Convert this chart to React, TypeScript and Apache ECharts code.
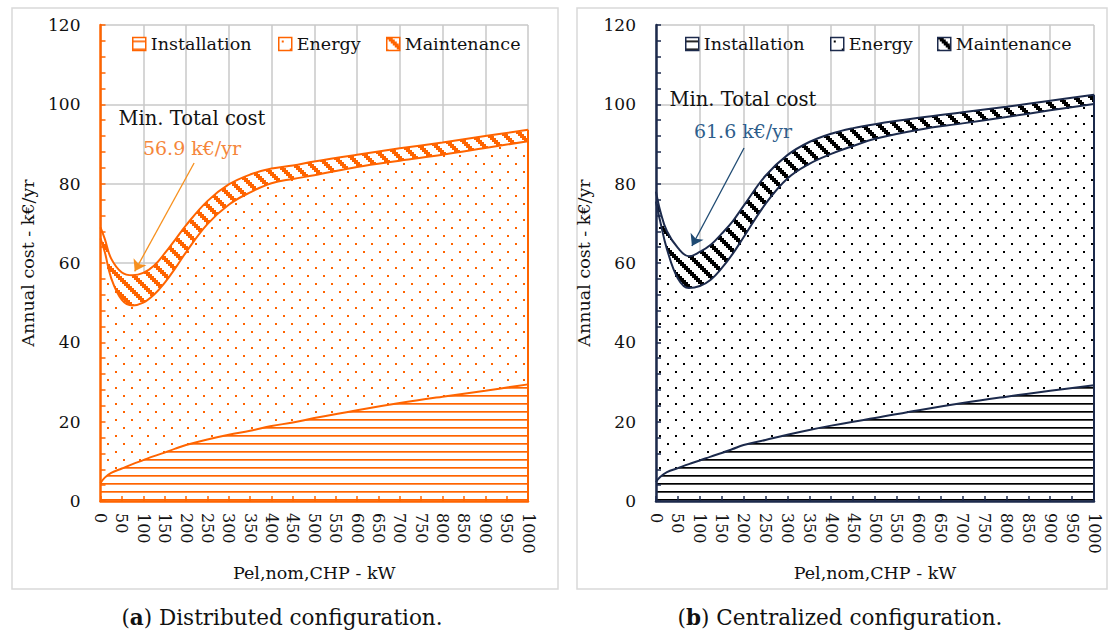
import React, { useEffect, useRef } from 'react';
import * as echarts from 'echarts';

// ---------------- data ----------------
const pelNomChp = [0, 10, 25, 50, 75, 100, 125, 150, 175, 200, 250, 300, 350, 400, 450, 500, 600, 700, 800, 900, 1000];
const xTickLabels = [0, 50, 100, 150, 200, 250, 300, 350, 400, 450, 500, 550, 600, 650, 700, 750, 800, 850, 900, 950, 1000];
const yTickLabels = [0, 20, 40, 60, 80, 100, 120];
const seriesNames = ['Installation', 'Energy', 'Maintenance'];

// (a) Distributed configuration
const installationA = [4.5, 5.9, 7.1, 8.2, 9.3, 10.3, 11.3, 12.2, 13.2, 14.1, 15.5, 16.7, 17.7, 18.9, 19.8, 20.9, 22.9, 24.7, 26.3, 27.8, 29.4];
const energyA = [61.7, 56.9, 49.1, 42.5, 40.0, 39.7, 40.7, 42.8, 45.5, 48.6, 54.3, 58.0, 60.1, 61.2, 61.4, 61.2, 61.3, 61.1, 61.0, 61.2, 61.3];
const maintenanceA = [2.8, 3.3, 4.9, 6.9, 7.6, 7.5, 7.3, 7.4, 7.2, 6.8, 5.8, 5.1, 4.5, 3.7, 3.4, 3.5, 3.1, 3.1, 3.1, 3.0, 2.9];
const minTotalA = 56.9;

// (b) Centralized configuration
const installationB = [4.8, 6.1, 7.3, 8.3, 9.3, 10.2, 11.2, 12.1, 13.1, 14.1, 15.4, 16.7, 17.9, 19.0, 20.0, 20.9, 22.9, 24.7, 26.3, 27.8, 29.2];
const energyB = [70.7, 64.2, 56.2, 47.8, 44.4, 44.0, 44.6, 46.6, 49.2, 52.4, 59.5, 64.6, 67.1, 68.5, 69.5, 70.4, 70.7, 70.5, 70.5, 70.7, 70.9];
const maintenanceB = [2.5, 2.7, 4.5, 7.7, 8.0, 8.6, 8.8, 8.7, 8.2, 7.9, 7.1, 5.9, 5.5, 5.1, 4.5, 3.7, 3.0, 2.8, 2.6, 2.4, 2.3];
const minTotalB = 61.6;

// ---------------- styling ----------------
const FONT = 'DejaVu Serif';
const TEXT = '#111111';
const GRID_GRAY = '#c8c8c8';
const TICK_SIZE = 17;
const NAME_SIZE = 17.5;

type Panel = {
  left: number; width: number; gridLeft: number; gridWidth: number;
  color: string; patternColor: string; legendLefts: number[]; yNameGap: number;
  border: { x: number; y: number; w: number; h: number };
  captionBold: string; captionRest: string; captionX: number;
  noteX: number; noteY1: number; noteY2: number; noteColor: string; arrowColor: string;
  arrowFrom: number[]; arrowTo: number[];
  installation: number[]; energy: number[]; maintenance: number[]; minTotal: number;
};

const panels: Panel[] = [
  {
    left: 0, width: 560, gridLeft: 100.5, gridWidth: 427.5,
    color: '#FF6400', patternColor: '#FF6400', legendLefts: [132, 278, 386], yNameGap: 58,
    border: { x: 12, y: 8, w: 546, h: 581 },
    captionBold: 'a', captionRest: ' Distributed configuration.', captionX: 282,
    noteX: 192, noteY1: 118, noteY2: 148, noteColor: '#F5863A', arrowColor: '#F7901E',
    arrowFrom: [219, 85.2], arrowTo: [80, 57.9],
    installation: installationA, energy: energyA, maintenance: maintenanceA, minTotal: minTotalA,
  },
  {
    left: 560, width: 550, gridLeft: 96, gridWidth: 438,
    color: '#1C2A4C', patternColor: '#000000', legendLefts: [125, 270, 377], yNameGap: 50,
    border: { x: 17, y: 8, w: 530, h: 581 },
    captionBold: 'b', captionRest: ' Centralized configuration.', captionX: 280,
    noteX: 183, noteY1: 99, noteY2: 131, noteColor: '#2E5E8C', arrowColor: '#1E4A72',
    arrowFrom: [201, 89.0], arrowTo: [82, 64.3],
    installation: installationB, energy: energyB, maintenance: maintenanceB, minTotal: minTotalB,
  },
];

function makeTile(kind: 'lines' | 'dots' | 'diag', color: string) {
  const size = kind === 'lines' ? 8 : 16;
  const c = document.createElement('canvas');
  c.width = size;
  c.height = size;
  const ctx = c.getContext('2d')!;
  ctx.fillStyle = '#ffffff';
  ctx.fillRect(0, 0, size, size);
  ctx.fillStyle = color;
  if (kind === 'lines') {
    ctx.fillRect(0, 3, 8, 1.7);
  } else if (kind === 'dots') {
    ctx.fillRect(3, 3, 2, 2);
    ctx.fillRect(11, 11, 2, 2);
  } else {
    for (let r = 0; r < 8; r++) {
      for (let k = 0; k < 3; k++) {
        ctx.fillRect(((r + k) % 8) * 2, r * 2, 2, 2);
      }
    }
  }
  return { image: c, repeat: 'repeat', imageWidth: size, imageHeight: size };
}

function buildOption(p: Panel) {
  const pats = [makeTile('lines', p.patternColor), makeTile('dots', p.patternColor), makeTile('diag', p.patternColor)];
  // cumulative tops of the stacked components (installation, + energy, + maintenance)
  const tops: number[][] = [];
  const parts = [p.installation, p.energy, p.maintenance];
  parts.forEach((arr, k) => {
    tops.push(arr.map((v, i) => +(v + (k > 0 ? tops[k - 1][i] : 0)).toFixed(2)));
  });
  const toPairs = (arr: number[]) => pelNomChp.map((x, i) => [x, arr[i]]);
  const last = pelNomChp.length - 1;
  const lastTotal = tops[2][last];
  const xMin = xTickLabels[0];
  const xMax = xTickLabels[xTickLabels.length - 1];
  const yMin = yTickLabels[0];
  const yMax = yTickLabels[yTickLabels.length - 1];
  const yStep = yTickLabels[1] - yTickLabels[0];
  const xStep = xTickLabels[1] - xTickLabels[0];

  // draw order: total first (back), then energy top, then installation (front)
  const order = [2, 1, 0];

  return {
    animation: false,
    textStyle: { fontFamily: FONT },
    grid: { left: p.gridLeft, top: 25, width: p.gridWidth, height: 476, containLabel: false, outerBoundsMode: 'none' },
    legend: p.legendLefts.map((left, i) => ({
      data: [{ name: seriesNames[i], icon: 'rect', itemStyle: { color: pats[i], borderColor: p.color, borderWidth: 1.5 } }],
      left, top: 35, padding: 0, itemWidth: 13, itemHeight: 13, selectedMode: false, z: 8,
      textStyle: { fontSize: NAME_SIZE, fontFamily: FONT, color: TEXT },
    })),
    xAxis: [
      {
        type: 'value', min: xMin, max: xMax, interval: xStep, position: 'bottom', z: 5,
        axisLine: { show: true, onZero: false, lineStyle: { color: p.color, width: 2.5 } },
        axisTick: { show: true, inside: true, length: 5, lineStyle: { color: p.color, width: 1.5 } },
        axisLabel: { rotate: -90, margin: 12, formatter: (v: number) => String(v), fontSize: TICK_SIZE - 1, fontFamily: FONT, color: TEXT },
        splitLine: { show: false },
        name: 'Pel,nom,CHP - kW', nameLocation: 'middle', nameGap: 63,
        nameTextStyle: { fontSize: NAME_SIZE, fontFamily: FONT, color: TEXT },
      },
      {
        type: 'value', min: xMin, max: xMax, interval: 100, position: 'top', z: 0,
        axisLine: { show: false }, axisTick: { show: false }, axisLabel: { show: false },
        splitLine: { show: true, lineStyle: { color: GRID_GRAY, width: 1.5 } },
      },
    ],
    yAxis: [
      {
        type: 'value', min: yMin, max: yMax, interval: yStep, position: 'left', z: 5,
        axisLine: { show: true, onZero: false, lineStyle: { color: p.color, width: 2.5 } },
        axisTick: { show: true, inside: true, length: 5, lineStyle: { color: p.color, width: 1.5 } },
        minorTick: { show: true, splitNumber: 5, length: 5, lineStyle: { color: p.color, width: 1.5 } },
        axisLabel: { margin: 20, formatter: (v: number) => String(v), fontSize: TICK_SIZE, fontFamily: FONT, color: TEXT },
        splitLine: { show: false },
        name: 'Annual cost - k€/yr', nameLocation: 'middle', nameGap: p.yNameGap, nameRotate: 90,
        nameTextStyle: { fontSize: NAME_SIZE, fontFamily: FONT, color: TEXT },
      },
      {
        type: 'value', min: yMin, max: yMax, interval: yStep, position: 'right', z: 0,
        axisLine: { show: false }, axisTick: { show: false }, axisLabel: { show: false },
        splitLine: { show: true, lineStyle: { color: GRID_GRAY, width: 1.5 } },
      },
    ],
    series: order.map((i) => ({
      name: seriesNames[i], type: 'line', xAxisIndex: 0, yAxisIndex: 0,
      data: toPairs(tops[i]), smooth: 0.4, showSymbol: false, symbol: 'none',
      lineStyle: { color: p.color, width: 2 }, itemStyle: { color: p.color },
      areaStyle: { color: pats[i], opacity: 1, origin: 'start' }, emphasis: { disabled: true }, silent: true,
      z: 2,
      markLine: i === 0 ? {
        silent: true, animation: false, label: { show: false }, z: 6,
        data: [
          [
            { coord: p.arrowFrom, symbol: 'none', lineStyle: { color: p.arrowColor, width: 1.3, type: 'solid' } },
            { coord: p.arrowTo, symbol: 'arrow', symbolSize: 11 },
          ],
          [
            { coord: [xMax, 0], symbol: 'none', lineStyle: { color: p.color, width: 2, type: 'solid' } },
            { coord: [xMax, lastTotal], symbol: 'none' },
          ],
        ],
      } : undefined,
    })),
    graphic: [
      {
        type: 'rect', silent: true, z: -10,
        shape: { x: p.border.x, y: p.border.y, width: p.border.w, height: p.border.h },
        style: { fill: 'none', stroke: '#d9d9d9', lineWidth: 1.5 },
      },
      {
        type: 'text', silent: true, x: p.noteX, y: p.noteY1, z: 10,
        style: { text: 'Min. Total cost', fontSize: 19.5, fontFamily: FONT, fill: TEXT, align: 'center', verticalAlign: 'middle' },
      },
      {
        type: 'text', silent: true, x: p.noteX, y: p.noteY2, z: 10,
        style: { text: `${p.minTotal.toFixed(1)} k€/yr`, fontSize: 19, fontFamily: FONT, fill: p.noteColor, align: 'center', verticalAlign: 'middle' },
      },
      {
        type: 'text', silent: true, x: p.captionX, y: 617, z: 10,
        style: {
          text: `({b|${p.captionBold}})${p.captionRest}`,
          fontSize: 21.5, fontFamily: FONT, fill: TEXT, align: 'center', verticalAlign: 'middle',
          rich: { b: { fontSize: 21.5, fontFamily: FONT, fontWeight: 'bold', fill: TEXT } },
        },
      },
    ],
  };
}

function ChartPanel({ panel }: { panel: Panel }) {
  const ref = useRef<HTMLDivElement>(null);
  useEffect(() => {
    if (!ref.current) return;
    const chart = echarts.init(ref.current, undefined, { renderer: 'svg' });
    chart.setOption(buildOption(panel) as any);
    return () => chart.dispose();
  }, [panel]);
  return (
    <div
      ref={ref}
      style={{ position: 'absolute', left: panel.left, top: 0, width: panel.width, height: 636, fontFamily: FONT }}
    />
  );
}

export default function App() {
  return (
    <div style={{ position: 'fixed', left: 0, top: 0, width: 1110, height: 636, background: '#ffffff', overflow: 'hidden' }}>
      {panels.map((p, i) => (
        <ChartPanel key={i} panel={p} />
      ))}
    </div>
  );
}
